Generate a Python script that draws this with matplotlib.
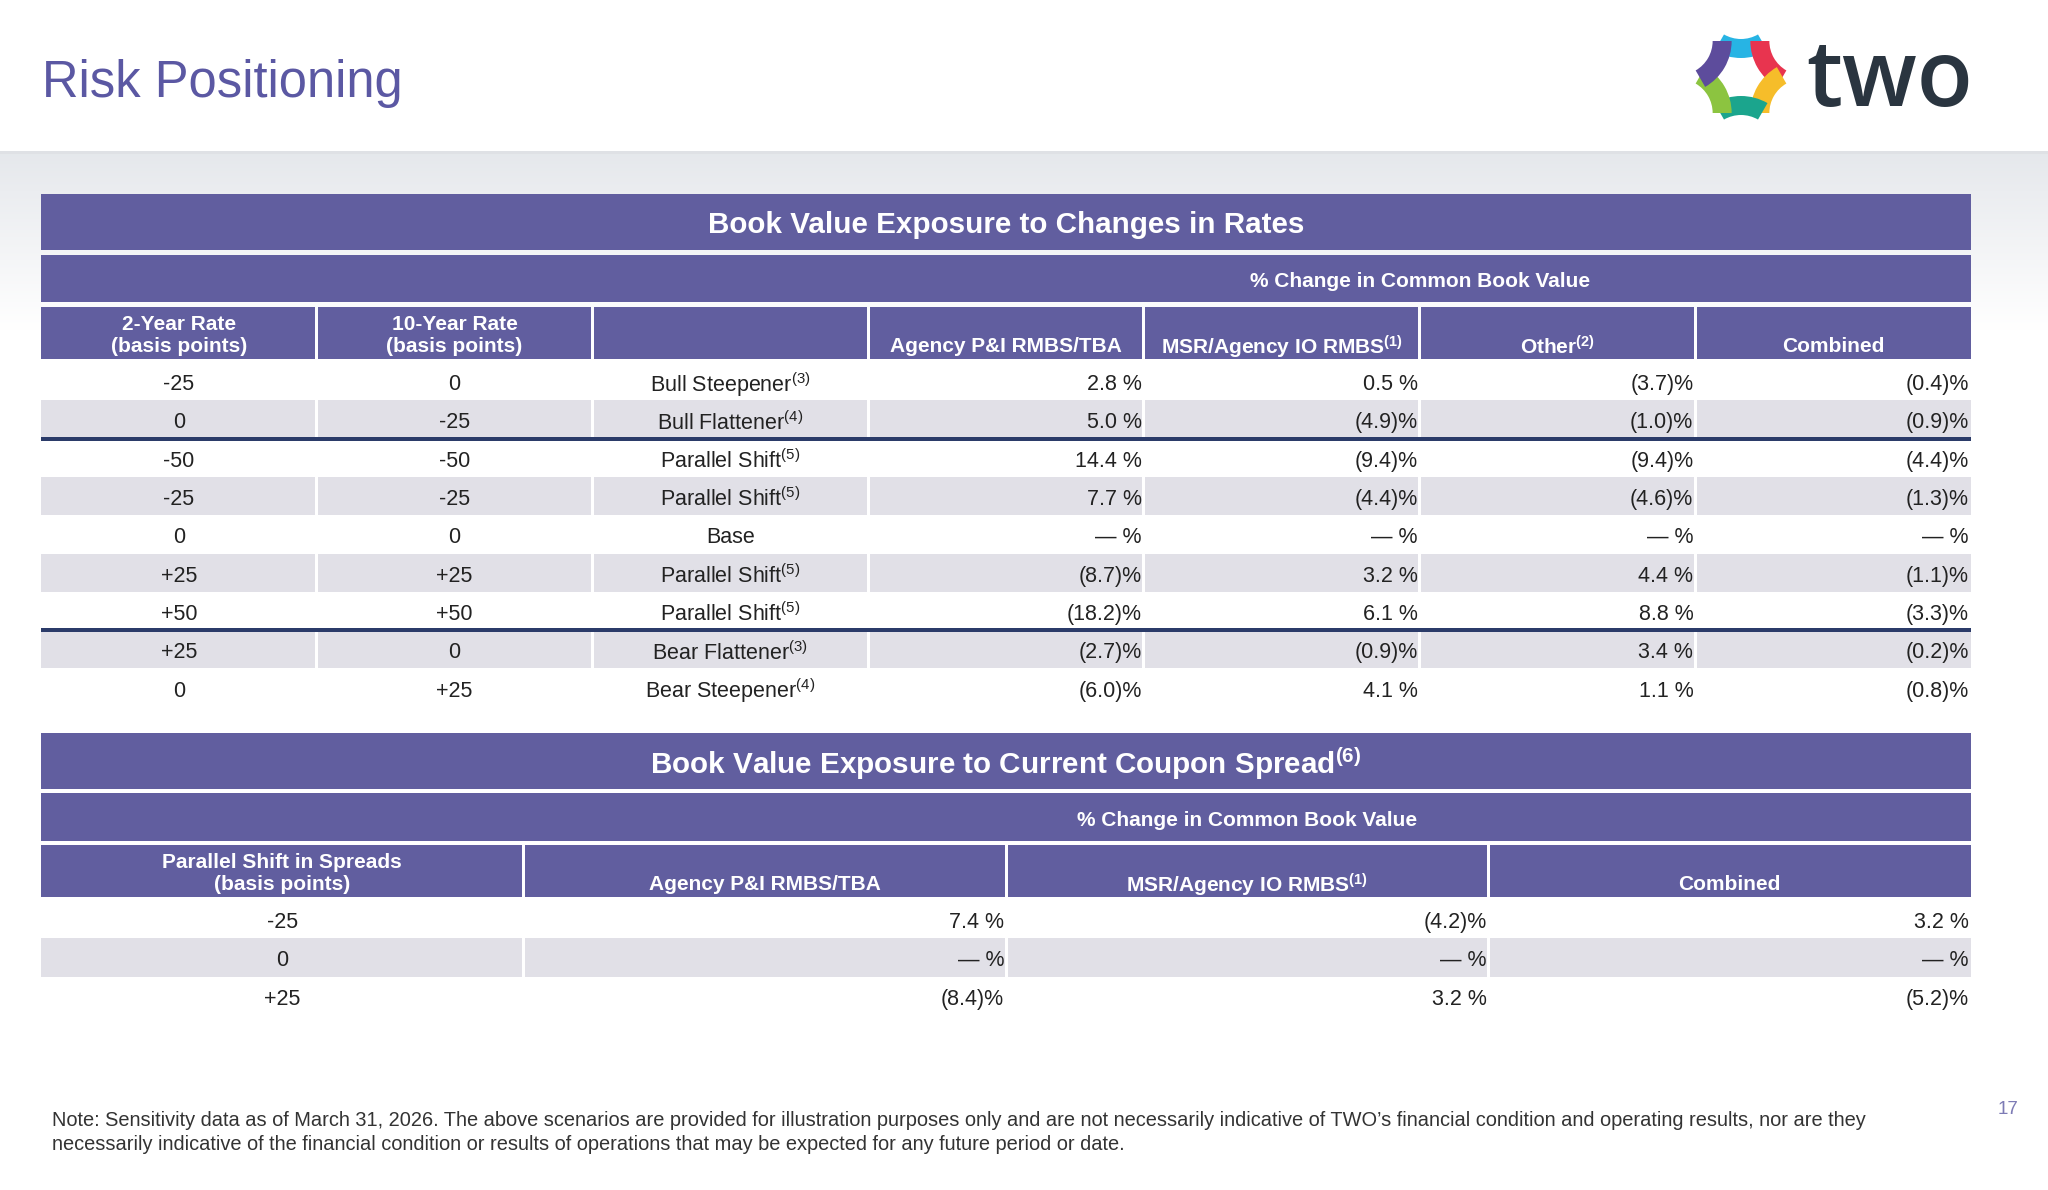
import matplotlib
matplotlib.use("Agg")
import matplotlib.pyplot as plt
from matplotlib.patches import Rectangle, Wedge
import numpy as np

plt.rcParams['font.family'] = ['Liberation Sans', 'DejaVu Sans']
plt.rcParams['mathtext.fontset'] = 'custom'
plt.rcParams['mathtext.rm'] = 'Liberation Sans'
plt.rcParams['mathtext.bf'] = 'Liberation Sans:bold'
plt.rcParams['mathtext.default'] = 'regular'

# ---------------- data ----------------
page_title = "Risk Positioning"
page_number = "17"

t1_title = "Book Value Exposure to Changes in Rates"
t1_group = "% Change in Common Book Value"
t1_headers = ["2-Year Rate\n(basis points)", "10-Year Rate\n(basis points)", "",
              "Agency P&I RMBS/TBA", "MSR/Agency IO RMBS$^{(1)}$",
              "Other$^{(2)}$", "Combined"]
two_year_bp = ["-25", "0", "-50", "-25", "0", "+25", "+50", "+25", "0"]
ten_year_bp = ["0", "-25", "-50", "-25", "0", "+25", "+50", "0", "+25"]
scenarios = ["Bull Steepener", "Bull Flattener", "Parallel Shift", "Parallel Shift",
             "Base", "Parallel Shift", "Parallel Shift", "Bear Flattener", "Bear Steepener"]
scenario_notes = ["3", "4", "5", "5", "", "5", "5", "3", "4"]
agency_pi = [2.8, 5.0, 14.4, 7.7, 0.0, -8.7, -18.2, -2.7, -6.0]
msr_io = [0.5, -4.9, -9.4, -4.4, 0.0, 3.2, 6.1, -0.9, 4.1]
other = [-3.7, -1.0, -9.4, -4.6, 0.0, 4.4, 8.8, 3.4, 1.1]
combined = [-0.4, -0.9, -4.4, -1.3, 0.0, -1.1, -3.3, -0.2, -0.8]
t1_divider_after = [1, 6]

t2_title = "Book Value Exposure to Current Coupon Spread$^{(6)}$"
t2_group = "% Change in Common Book Value"
t2_headers = ["Parallel Shift in Spreads\n(basis points)", "Agency P&I RMBS/TBA",
              "MSR/Agency IO RMBS$^{(1)}$", "Combined"]
spread_bp = ["-25", "0", "+25"]
agency_pi_2 = [7.4, 0.0, -8.4]
msr_io_2 = [-4.2, 0.0, 3.2]
combined_2 = [3.2, 0.0, -5.2]

note_lines = [
    "Note: Sensitivity data as of March 31, 2026. The above scenarios are provided for illustration purposes only and are not necessarily indicative of TWO\u2019s financial condition and operating results, nor are they",
    "necessarily indicative of the financial condition or results of operations that may be expected for any future period or date.",
]

# ---------------- style ----------------
PURPLE = "#615e9f"
GRAY = "#e1e0e7"
NAVY = "#2b3b69"
TXT = "#222222"
TITLE_C = "#5b58a3"
FS_TITLE = 21.3
FS_GROUP = 15
FS_HEAD = 15
FS_DATA = 15.5

W, H = 2048, 1190
fig = plt.figure(figsize=(W / 100, H / 100), dpi=100)
ax = fig.add_axes([0, 0, 1, 1])
ax.set_xlim(0, W)
ax.set_ylim(H, 0)
ax.axis("off")

# background gradient under header
grad = np.linspace(0, 1, 200).reshape(-1, 1)
c0 = np.array([0.90, 0.91, 0.925])
c1 = np.array([1.0, 1.0, 1.0])
img = c0[None, None, :] * (1 - grad[..., None]) + c1[None, None, :] * grad[..., None]
img = np.repeat(img, 2, axis=1)
ax.imshow(img, extent=[0, W, 330, 153], aspect="auto", zorder=0)
ax.add_patch(Rectangle((0, 151), W, 3, color="#dfe1e5", zorder=0.5, lw=0))

# title
ax.text(42, 84, page_title, fontsize=36.5, color=TITLE_C, va="center", ha="left")

# logo
icx, icy = 1741, 77
cols = ["#27b4e4", "#e8344f", "#f6bd2a", "#1ba58d", "#8cc440", "#5d4c9c"]
for i, col in enumerate(cols):
    phi = 90 - 60 * i
    D = 72
    cx = icx + D * np.cos(np.radians(phi))
    cy = icy - D * np.sin(np.radians(phi))
    back = -(phi + 180)
    ax.add_patch(Wedge((cx, cy), 53, back - 30, back + 30, width=19, color=col, lw=0, zorder=3))
ax.text(1806, 82, "two", fontsize=66, fontfamily="Open Sans", fontweight="semibold",
        color="#2a3540", va="center", ha="left")

L, R = 41, 1971


def cell(x0, y0, x1, y1, color, gap=1.5):
    ax.add_patch(Rectangle((x0 + gap, y0), (x1 - x0) - 2 * gap, y1 - y0, color=color, lw=0, zorder=1))


def fmt(v):
    if v == 0:
        return "\u2014 %"
    if v > 0:
        return f"{v:.1f} %"
    return f"({-v:.1f})%"


def draw_table(ncols, title, group, group_start, headers, title_band, sub_band, head_band,
               rows_top, row_h, center_cols, value_cols, dividers):
    edges = np.linspace(L, R, ncols + 1)
    ax.add_patch(Rectangle((L, title_band[0]), R - L, title_band[1] - title_band[0], color=PURPLE, lw=0, zorder=1))
    ax.text((L + R) / 2, (title_band[0] + title_band[1]) / 2 + 3, title, fontsize=FS_TITLE, fontweight="bold",
            color="white", ha="center", va="center", zorder=4)
    cell(L - 1.5, sub_band[0], edges[group_start] + 1.5, sub_band[1], PURPLE)
    cell(edges[group_start] - 1.5, sub_band[0], R + 1.5, sub_band[1], PURPLE)
    ax.text((edges[group_start] + R) / 2, (sub_band[0] + sub_band[1]) / 2 + 3, group, fontsize=FS_GROUP,
            fontweight="bold", color="white", ha="center", va="center", zorder=4)
    line2 = head_band[1] - 12
    for j in range(ncols):
        cell(edges[j] - 1.5 if j == 0 else edges[j], head_band[0],
             edges[j + 1] + (1.5 if j == ncols - 1 else 0), head_band[1], PURPLE)
        h = headers[j]
        if "\n" in h:
            ax.text((edges[j] + edges[j + 1]) / 2, line2 - 11.5, h, fontsize=FS_HEAD, fontweight="bold",
                    color="white", ha="center", va="center", linespacing=1.2, zorder=4)
        elif h:
            ax.text((edges[j] + edges[j + 1]) / 2, line2, h, fontsize=FS_HEAD, fontweight="bold",
                    color="white", ha="center", va="center", zorder=4)
    nrows = len(center_cols[0])
    for i in range(nrows):
        y0 = rows_top + i * row_h
        y1 = y0 + row_h
        if i % 2 == 1:
            for j in range(ncols):
                cell(edges[j] - (1.5 if j == 0 else 0), y0,
                     edges[j + 1] + (1.5 if j == ncols - 1 else 0), y1, GRAY)
        yc = (y0 + y1) / 2 + 3.5
        for j, colvals in enumerate(center_cols):
            ax.text((edges[j] + edges[j + 1]) / 2, yc, colvals[i], fontsize=FS_DATA, color=TXT,
                    ha="center", va="center", zorder=4)
        for k, colvals in enumerate(value_cols):
            j = len(center_cols) + k
            ax.text(edges[j + 1] - 2, yc, fmt(colvals[i]), fontsize=FS_DATA, color=TXT,
                    ha="right", va="center", zorder=4)
    for d in dividers:
        yb = rows_top + (d + 1) * row_h
        ax.add_patch(Rectangle((L, yb - 2), R - L, 4, color=NAVY, lw=0, zorder=3))


scen_labels = [s + (f"$^{{({n})}}$" if n else "") for s, n in zip(scenarios, scenario_notes)]

draw_table(7, t1_title, t1_group, 3, t1_headers, (194, 250), (255, 302), (307, 359),
           362, 38.3, [two_year_bp, ten_year_bp, scen_labels],
           [agency_pi, msr_io, other, combined], t1_divider_after)

draw_table(4, t2_title, t2_group, 1, t2_headers, (733, 789), (793, 841), (845, 897),
           900, 38.3, [spread_bp], [agency_pi_2, msr_io_2, combined_2], [])

# note
for k, line in enumerate(note_lines):
    ax.text(52, 1120 + k * 25, line, fontsize=14.4, color="#333333", ha="left", va="center")
ax.text(2008, 1110, page_number, fontsize=13.5, color="#7d7bb5", ha="center", va="center")

fig.savefig("out.png", dpi=100)
